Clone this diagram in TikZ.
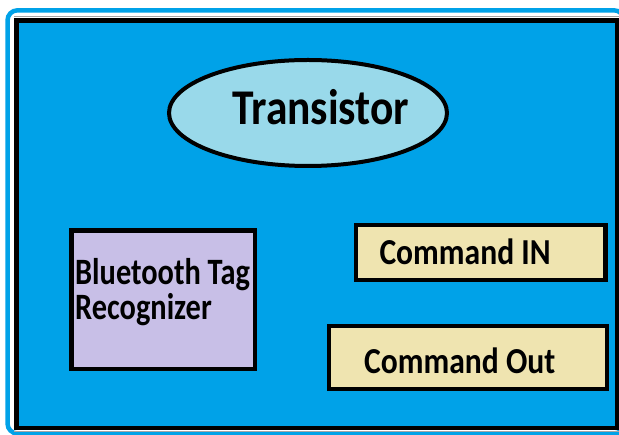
\documentclass[tikz,border=0pt]{standalone}
\usepackage{fontspec}
\setmainfont{Carlito}
\usetikzlibrary{shapes.geometric}
\definecolor{paintblue}{RGB}{0,162,232}
\definecolor{lightturq}{RGB}{153,217,234}
\definecolor{lavender}{RGB}{200,191,231}
\definecolor{paintcream}{RGB}{239,228,176}
\tikzset{
  boxnode/.style={draw=black, line width=4.5pt, rectangle, inner sep=0pt},
  bigtxt/.style={anchor=base west, inner sep=0pt, font=\bfseries\fontsize{43.5}{47}\selectfont},
  midtxt/.style={anchor=base west, inner sep=0pt, font=\bfseries\fontsize{31}{35}\selectfont},
}
\begin{document}
\begin{tikzpicture}[x=1pt, y=-1pt]
\clip (0,0) rectangle (619,435);
\fill[white] (0,0) rectangle (619,435);
% outer rounded outline
\draw[paintblue, line width=4.5pt, rounded corners=10pt] (7.5,10.3) rectangle (624,433.5);
% gray hairlines
\draw[gray!70, line width=1pt] (14,16.5) -- (619,16.5);
\draw[gray!70, line width=1pt] (14,431.5) -- (619,431.5);
% main panel
\node[boxnode, fill=paintblue, minimum width=600.3pt, minimum height=407.5pt] (panel) at (316.85,224.25) {};
% ellipse
\node[draw=black, line width=4pt, fill=lightturq, ellipse, inner sep=0pt, minimum width=278pt, minimum height=106pt] (trans) at (308,113) {};
\node[bigtxt] (transtxt) at (232,125) {\scalebox{1}[1.15]{Transistor}};
% Bluetooth box
\node[boxnode, fill=lavender, minimum width=183.3pt, minimum height=138.5pt] (bt) at (163.35,299.75) {};
\node[midtxt] (bt1) at (75,285) {\scalebox{0.98}[1.2]{Bluetooth Tag}};
\node[midtxt] (bt2) at (75,320) {\scalebox{0.98}[1.2]{Recognizer}};
% Command IN
\node[boxnode, fill=paintcream, minimum width=249.5pt, minimum height=55pt] (cin) at (480.75,252.5) {};
\node[midtxt] (cintxt) at (379.3,264.3) {\scalebox{1.02}[1.18]{Command IN}};
% Command Out
\node[boxnode, fill=paintcream, minimum width=278pt, minimum height=63pt] (cout) at (468,357.5) {};
\node[midtxt] (couttxt) at (364,373.3) {\scalebox{1.02}[1.18]{Command Out}};
\end{tikzpicture}
\end{document}
